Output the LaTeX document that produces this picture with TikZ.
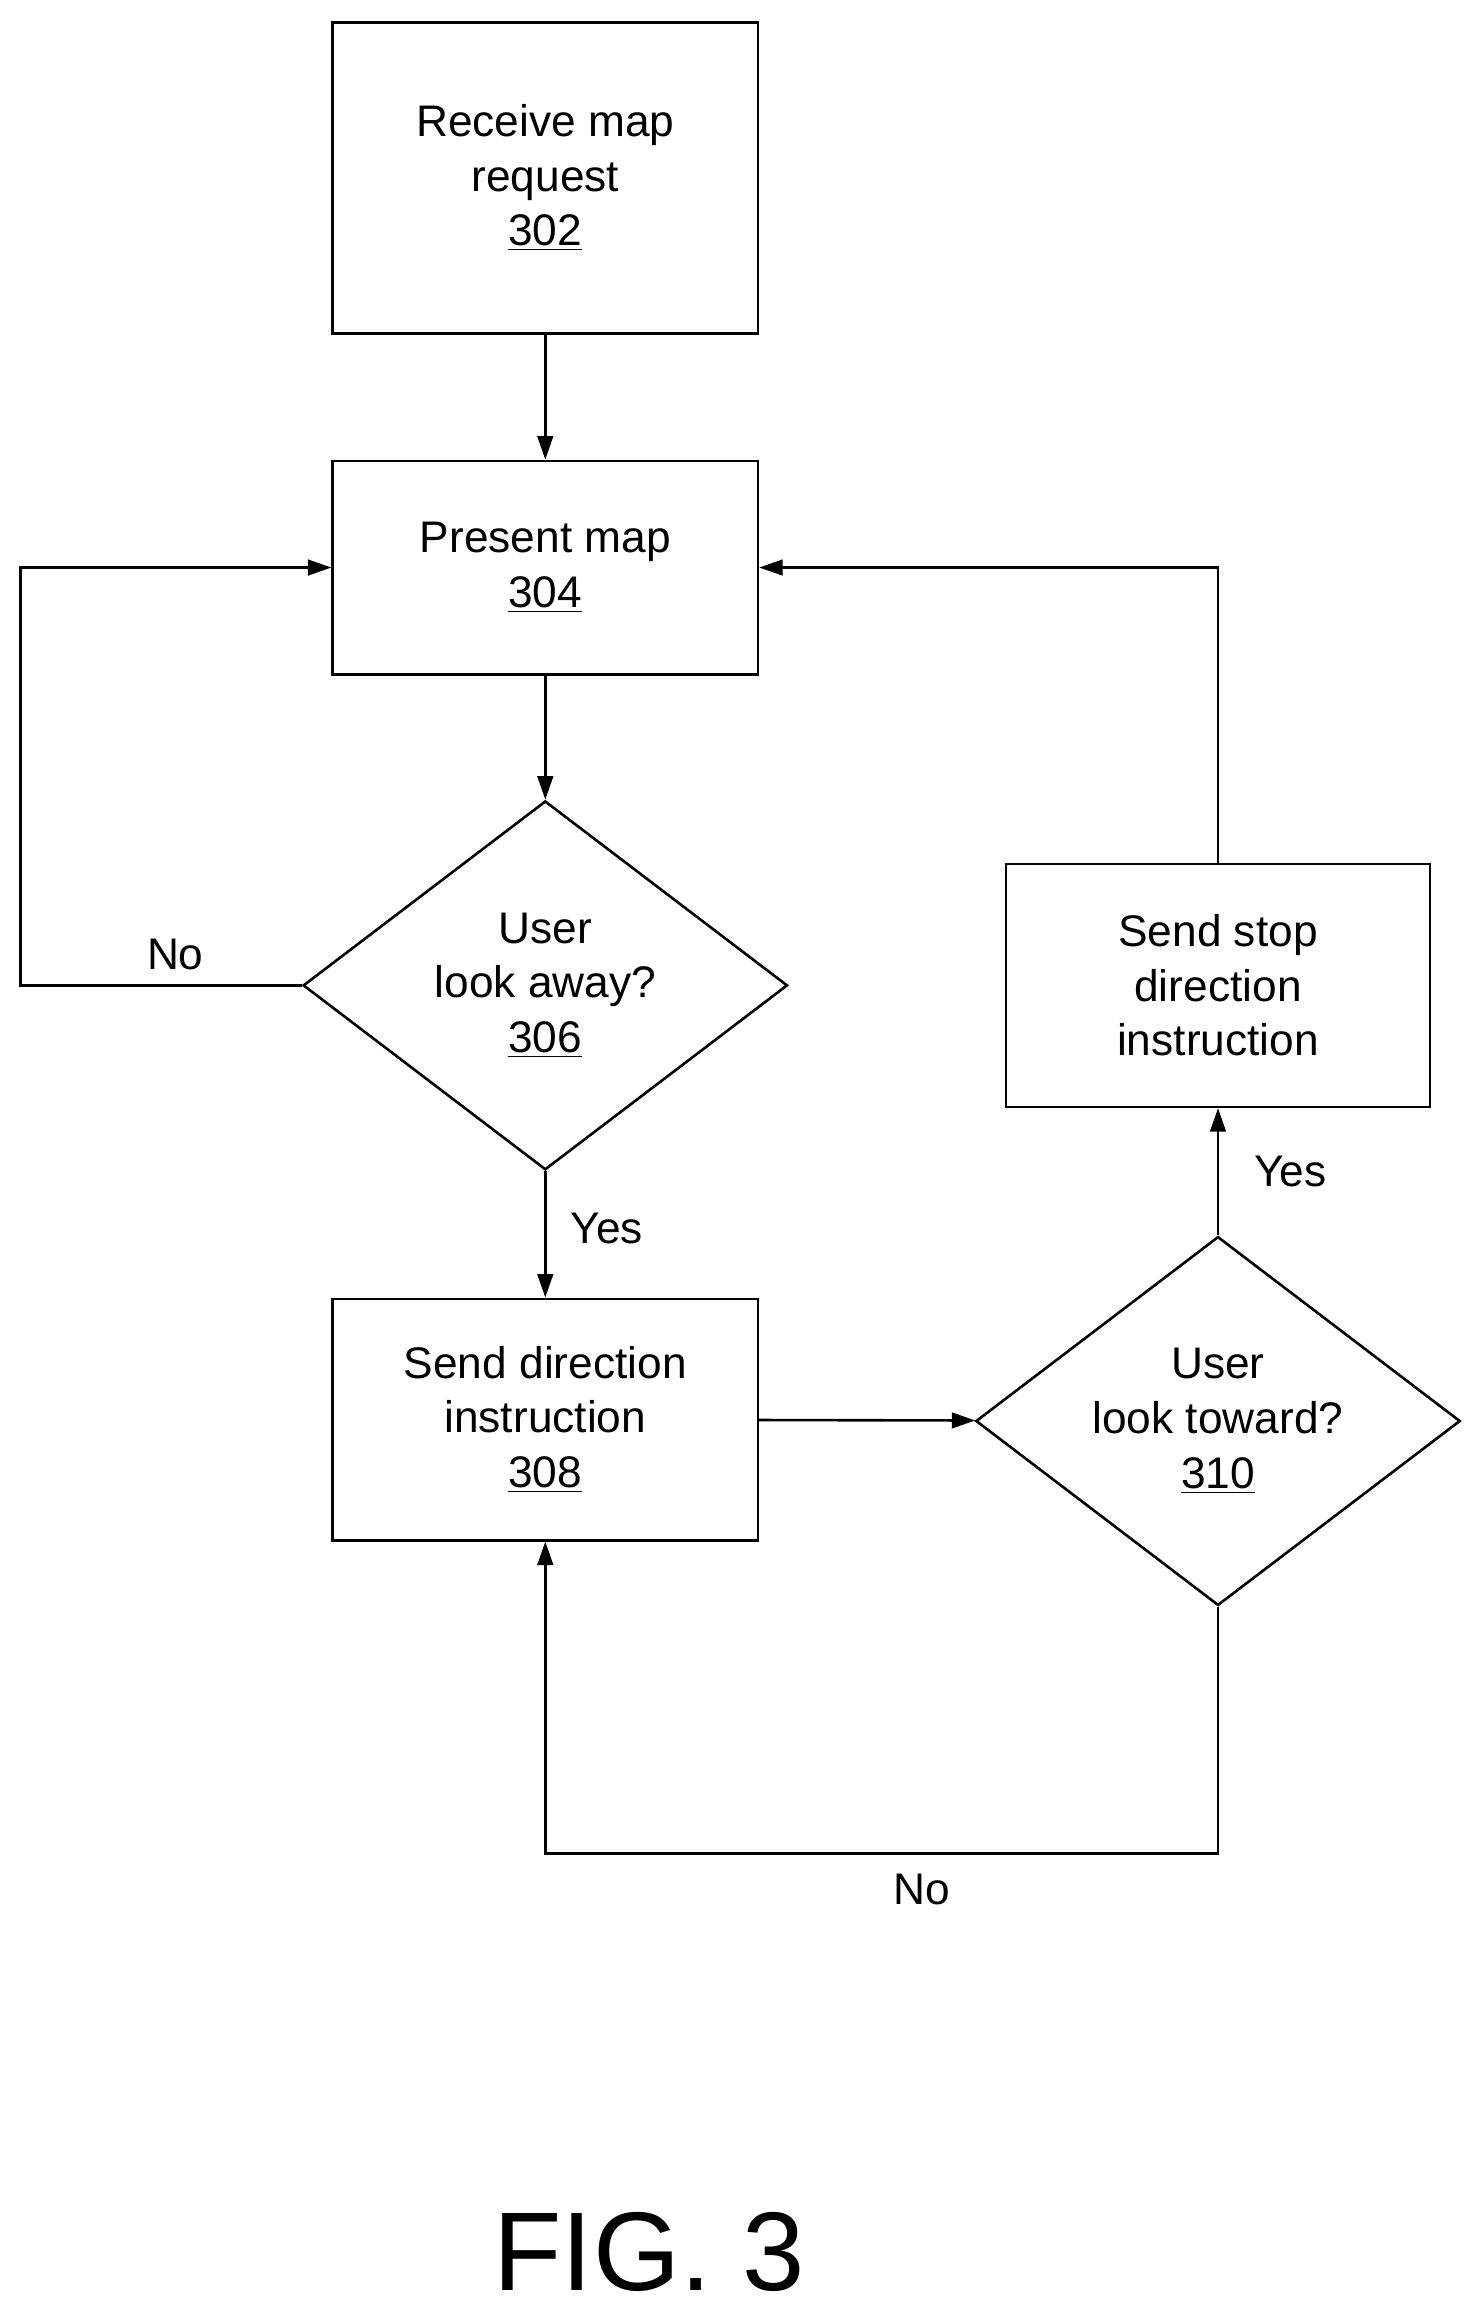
\documentclass[tikz,border=0pt]{standalone}
\usepackage{fontspec}
\setmainfont{Liberation Sans}
\usetikzlibrary{positioning, arrows.meta, shapes.geometric}

\begin{document}
\begin{tikzpicture}[
    x=0.02cm, y=-0.02cm,
    every node/.style={font=\fontsize{17}{21}\selectfont, align=center},
    box/.style={rectangle, draw, line width=1pt, minimum width=5.74cm},
    dec/.style={diamond, draw, line width=1pt, inner sep=0pt, aspect=1.31, minimum width=6.54cm, minimum height=4.98cm},
    arrow/.style={line width=1pt, -{Triangle[length=9pt, width=6pt]}}
]
\useasboundingbox (0,0) rectangle (1000,1563);

\node[box, minimum height=4.2cm] (request) at (368,120) {Receive map\\request\\\underline{302}};
\node[box, minimum height=2.88cm] (present) at (368,383) {Present map\\\underline{304}};
\node[dec] (away) at (368,665) {User\\look away?\\\underline{306}};
\node[box, minimum height=3.26cm] (send) at (368,958) {Send direction\\instruction\\\underline{308}};
\node[dec] (toward) at (822,959) {User\\look toward?\\\underline{310}};
\node[box, minimum width=5.72cm, minimum height=3.28cm] (stop) at (822,665) {Send stop\\direction\\instruction};

\coordinate (leftturn) at (14,665);
\coordinate (rightturn) at (822,1251);

\draw[arrow] (request) -- (present);
\draw[arrow] (present) -- (away);
\draw[arrow] (away) -- node[right=6pt, pos=0.45] {Yes} (send);
\draw[arrow] (away.west) -- node[above=2pt, pos=0.45] {No} (leftturn) |- (present.west);
\draw[arrow] (send) -- (toward);
\draw[arrow] (toward) -- node[right=10pt, pos=0.5] {Yes} (stop);
\draw[arrow] (stop.north) |- (present.east);
\draw[arrow] (toward.south) -- (rightturn) -| node[below=4pt, pos=0.22] {No} (send.south);

\node[font=\fontsize{43}{45}\selectfont] (fig) at (438,1520) {FIG. 3};
\end{tikzpicture}
\end{document}
